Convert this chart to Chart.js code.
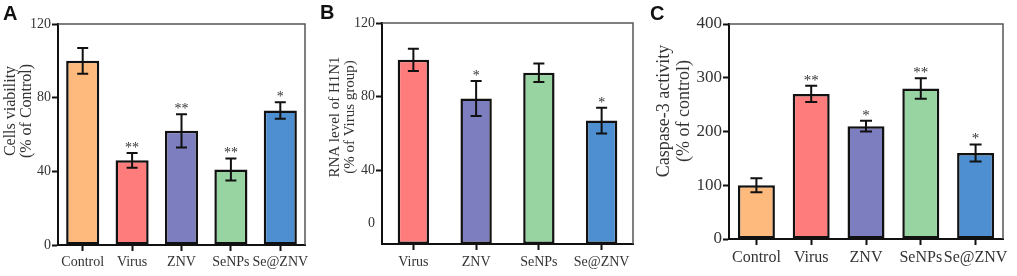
<!DOCTYPE html>
<html>
<head>
<meta charset="utf-8">
<script src="https://cdn.jsdelivr.net/npm/chart.js@4"></script>
<style>
body { margin: 0; width: 1017px; height: 276px; background: #fff; position: relative; overflow: hidden; }
canvas { position: absolute; top: 0; }
.letter { position: absolute; font: bold 20px "Liberation Sans", Arial, sans-serif; color: #111; }
</style>
</head>
<body>
<canvas id="chartA" width="320" height="276" style="left:0"></canvas>
<canvas id="chartB" width="330" height="276" style="left:320px"></canvas>
<canvas id="chartC" width="367" height="276" style="left:650px"></canvas>
<div class="letter" style="left:3px;top:2px">A</div>
<div class="letter" style="left:320px;top:1px">B</div>
<div class="letter" style="left:650px;top:2px">C</div>
<script>
// Bar colours
const orange = '#FDBA7C', red = '#FF7C7C', purple = '#7D7EBF', green = '#98D4A1', blue = '#4D8FD1';

// Panel A - cell viability
const labelsA = ['Control', 'Virus', 'ZNV', 'SeNPs', 'Se@ZNV'];
const valuesA = [100, 46, 62, 41, 73];
const errorsA = [7, 4, 9, 6, 4.5];
const starsA = ['', '**', '**', '**', '*'];
const tickValsA = [0, 40, 80, 120];
const tickLabelsA = ['0', '40', '80', '120'];

// Panel B - RNA level of H1N1 (the "0" label sits above the baseline in the original)
const labelsB = ['Virus', 'ZNV', 'SeNPs', 'Se@ZNV'];
const valuesB = [100, 79, 93, 67];
const errorsB = [6, 9.5, 5, 7];
const starsB = ['', '*', '', '*'];
const tickValsB = [11, 40, 80, 120];
const tickLabelsB = ['0', '40', '80', '120'];

// Panel C - caspase-3 activity
const labelsC = ['Control', 'Virus', 'ZNV', 'SeNPs', 'Se@ZNV'];
const valuesC = [100, 270, 210, 280, 160];
const errorsC = [13, 15, 10, 19, 16];
const starsC = ['', '**', '*', '**', '*'];
const tickValsC = [0, 100, 200, 300, 400];
const tickLabelsC = ['0', '100', '200', '300', '400'];

const serif = '"Liberation Serif", "Times New Roman", serif';

// error bars and significance stars
const errorBars = {
    id: 'errorBars',
    afterDatasetsDraw(chart, args, opts) {
        const ctx = chart.ctx;
        const y = chart.scales.y;
        const data = chart.data.datasets[0].data;
        ctx.save();
        ctx.strokeStyle = '#111';
        ctx.lineWidth = 2;
        chart.getDatasetMeta(0).data.forEach((bar, i) => {
            const top = y.getPixelForValue(data[i] + opts.errors[i]);
            const bot = y.getPixelForValue(data[i] - opts.errors[i]);
            const cap = opts.cap / 2;
            ctx.beginPath();
            ctx.moveTo(bar.x, top); ctx.lineTo(bar.x, bot);
            ctx.moveTo(bar.x - cap, top); ctx.lineTo(bar.x + cap, top);
            ctx.moveTo(bar.x - cap, bot); ctx.lineTo(bar.x + cap, bot);
            ctx.stroke();
            if (opts.stars[i]) {
                ctx.fillStyle = '#333';
                ctx.font = opts.starSize + 'px ' + serif;
                ctx.textAlign = 'center';
                ctx.textBaseline = 'alphabetic';
                ctx.fillText(opts.stars[i], bar.x, top - 1);
            }
        });
        ctx.restore();
    }
};

// thin grey frame on top and right
const frame = {
    id: 'frame',
    afterDraw(chart) {
        const a = chart.chartArea, ctx = chart.ctx;
        ctx.save();
        ctx.strokeStyle = '#555';
        ctx.lineWidth = 1.5;
        ctx.beginPath();
        ctx.moveTo(a.left, a.top); ctx.lineTo(a.right, a.top); ctx.lineTo(a.right, a.bottom);
        ctx.stroke();
        ctx.restore();
    }
};

// y axis title, two rotated lines placed like the original
const yTitle = {
    id: 'yTitle',
    afterDraw(chart, args, opts) {
        const ctx = chart.ctx;
        ctx.save();
        ctx.fillStyle = '#333';
        ctx.font = opts.size + 'px ' + serif;
        ctx.textAlign = 'center';
        ctx.textBaseline = 'middle';
        opts.lines.forEach((line, i) => {
            ctx.save();
            ctx.translate(opts.xs[i], opts.cy);
            ctx.rotate(-Math.PI / 2);
            ctx.fillText(line, 0, 0);
            ctx.restore();
        });
        ctx.restore();
    }
};

function makeChart(id, cfg) {
    return new Chart(document.getElementById(id), {
        type: 'bar',
        data: {
            labels: cfg.labels,
            datasets: [{
                data: cfg.values,
                backgroundColor: cfg.colors,
                borderColor: '#111',
                borderWidth: 2.5,
                borderSkipped: false,
                barPercentage: cfg.barPct,
                categoryPercentage: 1
            }]
        },
        options: {
            responsive: false,
            animation: false,
            devicePixelRatio: 1,
            layout: { padding: { top: cfg.top, right: cfg.right, left: 0, bottom: 0 } },
            plugins: {
                legend: { display: false },
                tooltip: { enabled: false },
                errorBars: { errors: cfg.errors, stars: cfg.stars, cap: cfg.cap, starSize: cfg.starSize },
                yTitle: { lines: cfg.title, xs: cfg.titleX, cy: cfg.titleY, size: cfg.titleSize }
            },
            scales: {
                x: {
                    grid: { drawOnChartArea: false, offset: false, tickLength: 6, tickWidth: 2, tickColor: '#111' },
                    border: { color: '#111', width: 2 },
                    ticks: { color: '#333', font: { family: serif, size: cfg.xFont }, padding: cfg.xPad, maxRotation: 0, autoSkip: false },
                    afterFit(s) { s.height = cfg.xHeight; }
                },
                y: {
                    min: cfg.min,
                    max: cfg.max,
                    afterBuildTicks(s) { s.ticks = cfg.tickVals.map(v => ({ value: v })); },
                    grid: {
                        drawOnChartArea: false, tickLength: 6, tickWidth: 2,
                        tickColor: c => (c.tick && c.tick.value === cfg.noTick) ? 'rgba(0,0,0,0)' : '#111'
                    },
                    border: { color: '#111', width: 2 },
                    ticks: {
                        color: '#333', font: { family: serif, size: cfg.yFont }, padding: 1,
                        callback: (v, i) => cfg.tickLabels[i]
                    },
                    afterFit(s) { s.width = cfg.yWidth; }
                }
            }
        },
        plugins: [errorBars, frame, yTitle]
    });
}

makeChart('chartA', {
    labels: labelsA, values: valuesA, errors: errorsA, stars: starsA,
    colors: [orange, red, purple, green, blue],
    tickVals: tickValsA, tickLabels: tickLabelsA, min: 0, max: 120, noTick: null,
    barPct: 0.67, cap: 11, starSize: 14,
    top: 24, right: 15, yWidth: 58, xHeight: 31, xPad: 3, xFont: 14, yFont: 14,
    title: ['Cells viability', '(% of Control)'], titleX: [11, 27], titleY: 111, titleSize: 16
});

makeChart('chartB', {
    labels: labelsB, values: valuesB, errors: errorsB, stars: starsB,
    colors: [red, purple, green, blue],
    tickVals: tickValsB, tickLabels: tickLabelsB, min: 0, max: 120, noTick: 11,
    barPct: 0.5, cap: 11, starSize: 14,
    top: 23, right: 17, yWidth: 62, xHeight: 32, xPad: 4, xFont: 14, yFont: 14,
    title: ['RNA level of H1N1', '(% of Virus group)'], titleX: [15, 30], titleY: 117, titleSize: 15
});

makeChart('chartC', {
    labels: labelsC, values: valuesC, errors: errorsC, stars: starsC,
    colors: [orange, red, purple, green, blue],
    tickVals: tickValsC, tickLabels: tickLabelsC, min: 0, max: 400, noTick: null,
    barPct: 0.675, cap: 12, starSize: 15,
    top: 24, right: 14, yWidth: 79, xHeight: 37, xPad: 3, xFont: 16, yFont: 17,
    title: ['Caspase-3 activity', '(% of control)'], titleX: [14, 34], titleY: 111, titleSize: 18
});
</script>
</body>
</html>
